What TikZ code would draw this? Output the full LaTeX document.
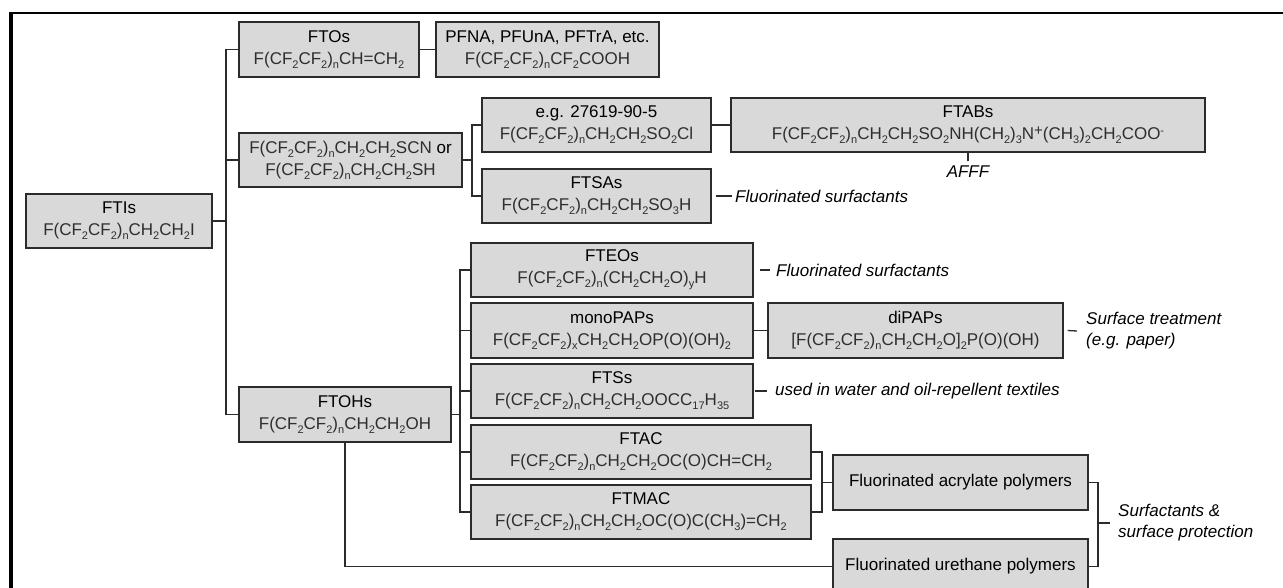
\documentclass[tikz,border=0pt]{standalone}
\usepackage{fontspec}
\setmainfont{Liberation Sans}
\definecolor{boxfill}{HTML}{D9D9D9}
\definecolor{boxline}{HTML}{2B2B2B}
\definecolor{fmcol}{HTML}{2E2E2E}
\newcommand\sbs[1]{\raisebox{-4pt}{\fontsize{11}{11}\selectfont #1}}
\newcommand\sps[1]{\raisebox{5pt}{\fontsize{11}{11}\selectfont #1}}
\newcommand\fm[1]{{\color{fmcol}#1}}
\newcommand\fcf{F(CF\sbs{2}CF\sbs{2})}
\tikzset{
  chem/.style={draw=boxline, fill=boxfill, line width=1.4pt, rectangle, inner sep=0pt,
    align=center, font=\fontsize{17}{22}\selectfont},
  conn/.style={draw=boxline, line width=1.3pt},
  note/.style={inner sep=0pt, anchor=west, align=left, font=\fontsize{17}{21}\selectfont\itshape}
}
\begin{document}
\begin{tikzpicture}[x=1pt, y=-1pt]
\useasboundingbox (0,0) rectangle (1283,588);
% frame
\draw[line width=4pt] (11,13) -- (11,600);
\draw[line width=2.5pt] (9,13.2) -- (1290,13.2);

% nodes
\node[chem, minimum width=186, minimum height=54] (FTIs) at (119,221) {FTIs\\\fm{\fcf\sbs{n}CH\sbs{2}CH\sbs{2}I}};
\node[chem, minimum width=180, minimum height=55] (FTOs) at (329,49.5) {FTOs\\\fm{\fcf\sbs{n}CH=CH\sbs{2}}};
\node[chem, minimum width=223, minimum height=55] (PFNA) at (547.5,49.5) {PFNA, PFUnA, PFTrA, etc.\\\fm{\fcf\sbs{n}CF\sbs{2}COOH}};
\node[chem, minimum width=223, minimum height=54] (SCN) at (350.5,160) {\fm{\fcf\sbs{n}CH\sbs{2}CH\sbs{2}SCN} or\\\fm{\fcf\sbs{n}CH\sbs{2}CH\sbs{2}SH}};
\node[chem, minimum width=229, minimum height=54] (EG) at (596.5,125) {e.g. 27619-90-5\\\fm{\fcf\sbs{n}CH\sbs{2}CH\sbs{2}SO\sbs{2}Cl}};
\node[chem, minimum width=229, minimum height=54] (FTSAs) at (596.5,196) {FTSAs\\\fm{\fcf\sbs{n}CH\sbs{2}CH\sbs{2}SO\sbs{3}H}};
\node[chem, minimum width=474, minimum height=54] (FTABs) at (968,125) {FTABs\\\fm{\fcf\sbs{n}CH\sbs{2}CH\sbs{2}SO\sbs{2}NH(CH\sbs{2})\sbs{3}N\raisebox{4pt}{\fontsize{15}{15}\selectfont+}(CH\sbs{3})\sbs{2}CH\sbs{2}COO\sps{-}}};
\node[chem, minimum width=212, minimum height=55] (FTOHs) at (345,414.5) {FTOHs\\\fm{\fcf\sbs{n}CH\sbs{2}CH\sbs{2}OH}};
\node[chem, minimum width=282, minimum height=54] (FTEOs) at (612,270) {FTEOs\\\fm{\fcf\sbs{n}(CH\sbs{2}CH\sbs{2}O)\sbs{y}H}};
\node[chem, minimum width=282, minimum height=55] (mono) at (612,330.5) {monoPAPs\\\fm{\fcf\sbs{x}CH\sbs{2}CH\sbs{2}OP(O)(OH)\sbs{2}}};
\node[chem, minimum width=295, minimum height=55] (di) at (915.5,330.5) {diPAPs\\\fm{[\fcf\sbs{n}CH\sbs{2}CH\sbs{2}O]\sbs{2}P(O)(OH)}};
\node[chem, minimum width=282, minimum height=54] (FTSs) at (612,391) {FTSs\\\fm{\fcf\sbs{n}CH\sbs{2}CH\sbs{2}OOCC\sbs{17}H\sbs{35}}};
\node[chem, minimum width=340, minimum height=54] (FTAC) at (641,452) {FTAC\\\fm{\fcf\sbs{n}CH\sbs{2}CH\sbs{2}OC(O)CH=CH\sbs{2}}};
\node[chem, minimum width=340, minimum height=54] (FTMAC) at (641,512) {FTMAC\\\fm{\fcf\sbs{n}CH\sbs{2}CH\sbs{2}OC(O)C(CH\sbs{3})=CH\sbs{2}}};
\node[chem, minimum width=255, minimum height=55] (acr) at (960.5,482.5) {Fluorinated acrylate polymers};
\node[chem, minimum width=255, minimum height=55] (ure) at (960.5,566.5) {Fluorinated urethane polymers};

% notes
\node[note, anchor=north, inner ysep=5pt] (afff) at (968,161) {AFFF};
\node[note] (nSA) at (735,196) {Fluorinated surfactants};
\node[note] (nEO) at (776,270) {Fluorinated surfactants};
\node[note] (nDi) at (1086,331) {Surface treatment\\(e.g. paper)};
\node[note] (nTS) at (775,391) {used in water and oil-repellent textiles};
\node[note] (nPol) at (1118,523) {Surfactants \&\\surface protection};

% branch coordinates
\coordinate (t1) at (226,0);
\coordinate (b1) at (472,0);
\coordinate (b2) at (460,0);
\coordinate (b3) at (822,0);
\coordinate (b4) at (1098,0);
\coordinate (m) at (1098,523);

% connectors
\draw[conn] (FTIs.east) -- (FTIs.east -| t1);
\draw[conn] (FTOs.west) -- (FTOs.west -| t1) |- (FTOHs.west);
\draw[conn] (SCN.west) -- (SCN.west -| t1);
\draw[conn] (FTOs.east) -- (PFNA.west);
\draw[conn] (SCN.east) -- (SCN.east -| b1);
\draw[conn] (EG.west) -- (EG.west -| b1) |- (FTSAs.west);
\draw[conn] (EG.east) -- (FTABs.west);
\draw[conn] (FTABs.south) -- (afff.north);
\draw[conn] ([xshift=4pt]FTSAs.east) -- ([xshift=-3pt]nSA.west);
\draw[conn] (FTOHs.east) -- (FTOHs.east -| b2);
\draw[conn] (FTEOs.west) -- (FTEOs.west -| b2) |- (FTMAC.west);
\draw[conn] (mono.west) -- (mono.west -| b2);
\draw[conn] (FTSs.west) -- (FTSs.west -| b2);
\draw[conn] (FTAC.west) -- (FTAC.west -| b2);
\draw[conn] ([xshift=6pt]FTEOs.east) -- ([xshift=-6pt]nEO.west);
\draw[conn] (mono.east) -- (di.west);
\draw[conn] ([xshift=4pt]di.east) -- ([xshift=-9pt]nDi.west);
\draw[conn] ([xshift=1pt]FTSs.east) -- ([xshift=-8pt]nTS.west);
\draw[conn] (FTAC.east) -- (FTAC.east -| b3) |- (FTMAC.east);
\draw[conn] (acr.west) -- (acr.west -| b3);
\draw[conn] (FTOHs.south) |- (ure.west);
\draw[conn] (acr.east) -- (acr.east -| b4) |- (ure.east);
\draw[conn] (m) -- ([xshift=-8pt]nPol.west);
\end{tikzpicture}
\end{document}
